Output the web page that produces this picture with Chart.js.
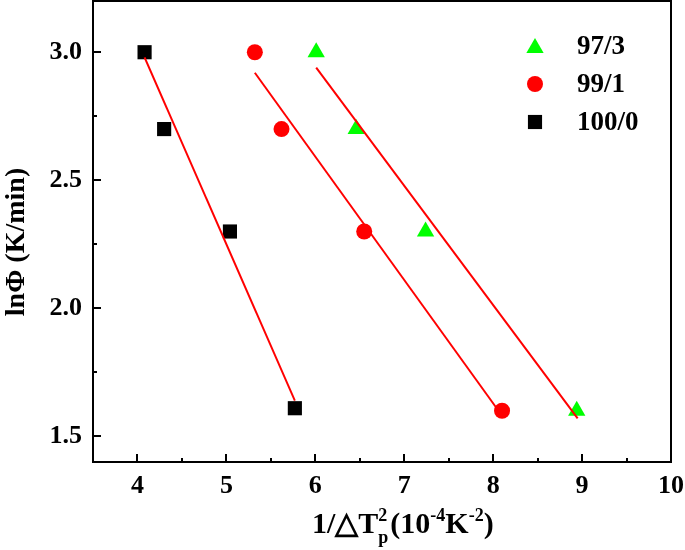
<!DOCTYPE html>
<html>
<head>
<meta charset="utf-8">
<script src="https://cdn.jsdelivr.net/npm/chart.js@4.4.1/dist/chart.umd.min.js"></script>
<style>
html,body{margin:0;padding:0;background:#fff;}
#wrap{width:685px;height:550px;}
</style>
</head>
<body>
<div id="wrap"><canvas id="c" width="685" height="550"></canvas></div>
<script>
// ---- data ----
const seriesNames = ['97/3', '99/1', '100/0'];
const x973 = [6.01, 6.46, 7.24, 8.94];
const y973 = [3.00, 2.70, 2.30, 1.60];
const x991 = [5.32, 5.62, 6.55, 8.10];
const y991 = [3.00, 2.70, 2.30, 1.60];
const x1000 = [4.08, 4.30, 5.04, 5.77];
const y1000 = [3.00, 2.70, 2.30, 1.61];
// fitted lines: endpoints
const fitX973 = [6.01, 8.95];
const fitY973 = [2.94, 1.57];
const fitX991 = [5.32, 8.04];
const fitY991 = [2.92, 1.61];
const fitX1000 = [4.08, 5.77];
const fitY1000 = [2.98, 1.64];
const xRange = [3.5, 10];
const yRange = [1.4, 3.2];
const xTicks = [4, 4.5, 5, 5.5, 6, 6.5, 7, 7.5, 8, 8.5, 9, 9.5, 10];
const yTicks = [1.5, 1.75, 2.0, 2.25, 2.5, 2.75, 3.0];

const pts = (xs, ys) => xs.map((v, i) => ({x: v, y: ys[i]}));
const SERIF = '"Liberation Serif", "Times New Roman", serif';
const isInt = v => Math.abs(v - Math.round(v)) < 1e-6;
const isHalf = v => Math.abs(v * 2 - Math.round(v * 2)) < 1e-6;

const fitStyle = {type: 'line', borderColor: '#ff0000', borderWidth: 2, pointRadius: 0, showLine: true, fill: false, isFit: true};

const datasets = [
  Object.assign({label: 'fit973', data: pts(fitX973, fitY973)}, fitStyle),
  Object.assign({label: 'fit991', data: pts(fitX991, fitY991)}, fitStyle),
  Object.assign({label: 'fit1000', data: pts(fitX1000, fitY1000)}, fitStyle),
  {type: 'scatter', label: seriesNames[0], data: pts(x973, y973), pointStyle: 'triangle', pointRadius: 10, backgroundColor: '#00ff00', borderColor: '#00ff00', borderWidth: 0},
  {type: 'scatter', label: seriesNames[1], data: pts(x991, y991), pointStyle: 'circle', pointRadius: 8, backgroundColor: '#ff0000', borderColor: '#ff0000', borderWidth: 0},
  {type: 'scatter', label: seriesNames[2], data: pts(x1000, y1000), pointStyle: 'rect', pointRadius: 10, backgroundColor: '#000000', borderColor: '#000000', borderWidth: 0}
];

const decor = {
  id: 'decor',
  afterDraw(chart) {
    const ctx = chart.ctx;
    const {left, right, top, bottom} = chart.chartArea;
    const xs = chart.scales.x, ys = chart.scales.y;
    ctx.save();
    ctx.strokeStyle = '#000';
    ctx.lineWidth = 2;
    ctx.strokeRect(left, top, right - left, bottom - top);
    // inward ticks
    xs.ticks.forEach(t => {
      const v = t.value;
      if (v <= xRange[0] || v >= xRange[1]) return;
      const px = Math.round(xs.getPixelForValue(v));
      const len = isInt(v) ? 8 : 4;
      ctx.beginPath(); ctx.moveTo(px, bottom); ctx.lineTo(px, bottom - len); ctx.stroke();
    });
    ys.ticks.forEach(t => {
      const v = t.value;
      if (v <= yRange[0] || v >= yRange[1]) return;
      const py = Math.round(ys.getPixelForValue(v));
      const len = isHalf(v) ? 8 : 4;
      ctx.beginPath(); ctx.moveTo(left, py); ctx.lineTo(left + len, py); ctx.stroke();
    });
    // legend
    const items = chart.data.datasets.filter(d => !d.isFit);
    const lx = 535, ly0 = 46, dy = 38;
    items.forEach((d, i) => {
      const y = ly0 + i * dy;
      ctx.fillStyle = d.backgroundColor;
      ctx.strokeStyle = d.borderColor;
      ctx.lineWidth = 0;
      Chart.helpers.drawPoint(ctx, {pointStyle: d.pointStyle, radius: d.pointRadius, borderWidth: 0, rotation: 0}, lx, y + (d.pointStyle === 'triangle' ? 2 : 0));
      ctx.fillStyle = '#000';
      ctx.font = 'bold 27px ' + SERIF;
      ctx.textBaseline = 'middle';
      ctx.textAlign = 'left';
      ctx.fillText(d.label, 577, y + 1);
    });
    // x title with sub/superscripts
    const mainF = 'bold 30px ' + SERIF, subF = 'bold 18px ' + SERIF;
    ctx.textBaseline = 'alphabetic';
    ctx.textAlign = 'left';
    let cx = 312; const base = 533;
    const put = (txt, font, dyb) => { ctx.font = font; ctx.fillText(txt, cx, base + dyb); return ctx.measureText(txt).width; };
    cx += put('1/\u25B3T', mainF, 0);
    const w1 = put('2', subF, -12);
    put('p', subF, 10);
    cx += Math.max(w1, ctx.measureText('p').width) + 2;
    cx += put('(10', mainF, 0);
    cx += put('-4', subF, -12);
    cx += put('K', mainF, 0);
    cx += put('-2', subF, -12);
    cx += put(')', mainF, 0);
    // y title
    ctx.save();
    ctx.translate(17, 242);
    ctx.rotate(-Math.PI / 2);
    ctx.font = 'bold 28px ' + SERIF;
    ctx.textAlign = 'center';
    ctx.textBaseline = 'middle';
    ctx.fillText('ln\u03A6 (K/min)', 0, 0);
    ctx.restore();
    ctx.restore();
  }
};

new Chart(document.getElementById('c'), {
  type: 'scatter',
  data: {datasets},
  options: {
    responsive: false,
    devicePixelRatio: 1,
    animation: false,
    layout: {autoPadding: false, padding: {top: 1, right: 14, left: 0, bottom: 0}},
    plugins: {legend: {display: false}, tooltip: {enabled: false}},
    scales: {
      x: {
        type: 'linear', min: xRange[0], max: xRange[1],
        grid: {display: false, drawTicks: true, tickLength: 9},
        border: {display: true, color: '#000', width: 2},
        ticks: {
          padding: 0, color: '#000', autoSkip: false, maxRotation: 0,
          font: {family: SERIF, size: 26, weight: 'bold'},
          callback: v => (isInt(v) ? String(Math.round(v)) : '')
        },
        afterBuildTicks: s => { s.ticks = xTicks.map(v => ({value: v})); },
        afterFit: s => { s.height = 88; s.paddingLeft = 0; s.paddingRight = 0; }
      },
      y: {
        type: 'linear', min: yRange[0], max: yRange[1],
        grid: {display: false, drawTicks: true, tickLength: 11},
        border: {display: true, color: '#000', width: 2},
        ticks: {
          padding: 0, color: '#000', autoSkip: false,
          font: {family: SERIF, size: 26, weight: 'bold'},
          callback: v => (isHalf(v) ? Number(v).toFixed(1) : '')
        },
        afterBuildTicks: s => { s.ticks = yTicks.map(v => ({value: v})); },
        afterFit: s => { s.width = 93; s.paddingTop = 0; s.paddingBottom = 0; }
      }
    }
  },
  plugins: [decor]
});
</script>
</body>
</html>
